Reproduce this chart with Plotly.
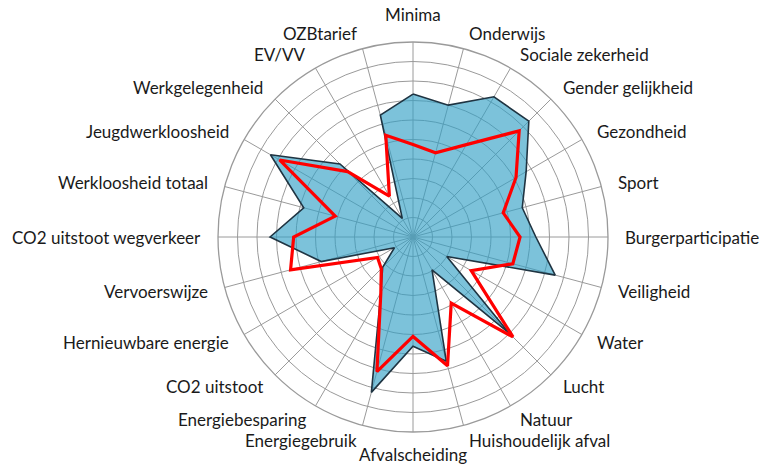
import math
import plotly.graph_objects as go

categories = [
    "Minima", "Onderwijs", "Sociale zekerheid", "Gender gelijkheid", "Gezondheid",
    "Sport", "Burgerparticipatie", "Veiligheid", "Water", "Lucht", "Natuur",
    "Huishoudelijk afval", "Afvalscheiding", "Energiegebruik", "Energiebesparing",
    "CO2 uitstoot", "Hernieuwbare energie", "Vervoerswijze", "CO2 uitstoot wegverkeer",
    "Werkloosheid totaal", "Jeugdwerkloosheid", "Werkgelegenheid", "EV/VV", "OZBtarief",
]

blue_values = [7.33, 7.0, 8.3, 8.4, 6.7, 5.8, 6.3, 7.55, 2.0, 6.95, 1.95, 6.6,
               5.6, 8.25, 3.3, 2.2, 1.1, 4.87, 7.33, 5.8, 8.44, 5.3, 1.1, 6.47]
red_values = [4.74, 4.47, 5.47, 7.7, 6.1, 4.79, 5.49, 5.3, 3.45, 7.25, 3.92, 6.84,
              5.1, 7.15, 3.3, 2.3, 2.1, 6.5, 6.12, 4.13, 7.9, 4.74, 2.42, 5.4]

radial_max = 10

W, H = 767, 468
# polar geometry in page pixels
CX, CY, R = 413, 237, 195
LABEL_R = 211
LABEL_R_BOTTOM = 206

fig = go.Figure()
fig.add_trace(go.Scatterpolar(
    r=blue_values + blue_values[:1],
    theta=categories + categories[:1],
    mode="lines",
    fill="toself",
    fillcolor="rgba(50,160,197,0.64)",
    line=dict(color="#1f3442", width=1.6),
    showlegend=False,
    hoverinfo="skip",
))
fig.add_trace(go.Scatterpolar(
    r=red_values + red_values[:1],
    theta=categories + categories[:1],
    mode="lines",
    line=dict(color="#ff0000", width=3.2),
    showlegend=False,
    hoverinfo="skip",
))

# category labels placed around the circle, Excel-style anchoring
n = len(categories)
for i, name in enumerate(categories):
    ang = 360.0 * i / n
    a = math.radians(ang)
    lr = LABEL_R
    if abs(ang) < 1e-6:
        xa, ya = "center", "bottom"
    elif abs(ang - 180) < 1e-6:
        xa, ya = "center", "top"
        lr = LABEL_R_BOTTOM
    elif ang < 180:
        xa, ya = "left", "middle"
    else:
        xa, ya = "right", "middle"
    px = CX + lr * math.sin(a)
    py = CY - lr * math.cos(a)
    fig.add_annotation(
        x=px / W, y=1 - py / H, xref="paper", yref="paper",
        text=name, showarrow=False, xanchor=xa, yanchor=ya,
        font=dict(size=17, color="#1a1a1a"), borderpad=0,
    )

fig.update_layout(
    width=W, height=H,
    margin=dict(l=0, r=0, t=0, b=0),
    paper_bgcolor="white",
    plot_bgcolor="white",
    font=dict(family="Lato, Liberation Sans, sans-serif", size=17, color="#1a1a1a"),
    polar=dict(
        domain=dict(x=[(CX - R) / W, (CX + R) / W],
                    y=[1 - (CY + R) / H, 1 - (CY - R) / H]),
        bgcolor="white",
        radialaxis=dict(
            range=[0, radial_max], dtick=1, showticklabels=False, ticks="",
            showline=False, gridcolor="#9a9a9a", gridwidth=1.3,
        ),
        angularaxis=dict(
            direction="clockwise", rotation=90,
            showline=True, linecolor="#9a9a9a", linewidth=1.3,
            gridcolor="#9a9a9a", gridwidth=1.3,
            ticks="", showticklabels=False,
        ),
    ),
)

fig.write_html("out.html", config={"displayModeBar": False},
               post_script="document.body.style.margin='0';")
